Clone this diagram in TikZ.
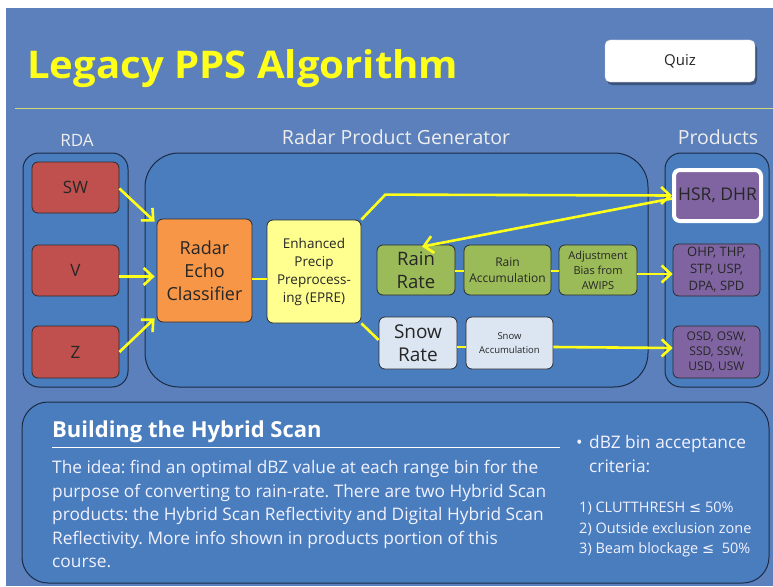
\documentclass[tikz,border=0pt]{standalone}
\usepackage{fontspec}
\setmainfont{Open Sans}
\newfontfamily\dejavu{DejaVu Sans}
\usetikzlibrary{arrows.meta,calc}
\definecolor{bgblue}{HTML}{5B80BC}
\definecolor{contfill}{HTML}{4A7DBE}
\definecolor{contline}{HTML}{1C2B45}
\definecolor{boxline}{HTML}{2B2B2B}
\definecolor{txtdark}{HTML}{262626}
\definecolor{hdr}{HTML}{EEEEEE}
\definecolor{ttl}{HTML}{FFFF1A}
\definecolor{ylw}{HTML}{FFFF1A}
\definecolor{hline}{HTML}{D4D77A}
\definecolor{cred}{HTML}{C0504D}
\definecolor{corange}{HTML}{F79646}
\definecolor{cyel}{HTML}{FFFF8F}
\definecolor{cgreen}{HTML}{9BBB59}
\definecolor{csnow}{HTML}{DCE6F2}
\definecolor{cpurple}{HTML}{8064A2}
\newcommand\fs[2]{\fontsize{#1}{#2}\selectfont}
\frenchspacing
\begin{document}
\begin{tikzpicture}[x=1pt,y=-1pt,
  cont/.style={draw=contline,fill=contfill,line width=1pt,inner sep=0pt},
  pbox/.style={draw=boxline,line width=0.8pt,rounded corners=6pt,inner sep=0pt,align=center,text=txtdark},
  redbox/.style={pbox,fill=cred},
  orangebox/.style={pbox,fill=corange},
  yelbox/.style={pbox,fill=cyel},
  greenbox/.style={pbox,fill=cgreen},
  snowbox/.style={pbox,fill=csnow},
  purplebox/.style={pbox,fill=cpurple},
  arr/.style={draw=ylw,line width=2.6pt,-{Straight Barb[length=9pt,width=17pt]}},
  link/.style={draw=ylw,line width=2.6pt},
  hdrtxt/.style={text=hdr,inner sep=0pt,anchor=base},
  bodytxt/.style={text=white!95!blue,inner sep=0pt,anchor=base west,font=\fs{17.3}{23}},
  crittxt/.style={text=white!95!blue,inner sep=0pt,anchor=base west,font=\fs{14.5}{20}}
]
\useasboundingbox (0,0) rectangle (773,586);
\fill[white] (0,0) rectangle (773,586);
\fill[bgblue] (6,8) rectangle (773,586);

% title
\node[anchor=base west,inner sep=0pt,text=ttl] (title) at (27,78)
  {\resizebox{431pt}{29pt}{\bfseries Legacy PPS Algorithm}};

% quiz button
\fill[black,opacity=0.35,rounded corners=5pt] (607,43) rectangle (757,85);
\node[draw=gray!40,fill=white,rounded corners=5pt,minimum width=150pt,minimum height=42pt,inner sep=0pt,text=txtdark,font=\fs{15}{18}] (quiz) at (680,61) {Quiz};

\draw[hline,line width=1pt] (15,108) -- (773,108);

% headers
\node[hdrtxt,font=\fs{17}{20}] (hrda) at (77,146) {RDA};
\node[hdrtxt,font=\fs{19.5}{24}] (hrpg) at (396,144) {Radar Product Generator};
\node[hdrtxt,font=\fs{19.5}{24}] (hprod) at (718,144) {Products};

% containers
\node[cont,rounded corners=16pt,minimum width=105pt,minimum height=234pt] (rda) at (75.5,270) {};
\node[cont,rounded corners=34pt,minimum width=503pt,minimum height=234pt] (rpg) at (396.5,270) {};
\node[cont,rounded corners=16pt,minimum width=104pt,minimum height=234pt] (prod) at (717,270) {};

% RDA boxes
\node[redbox,minimum width=87pt,minimum height=51pt,font=\fs{17}{21}] (sw) at (75.5,187.5) {SW};
\node[redbox,minimum width=87pt,minimum height=51pt,font=\fs{17}{21}] (v) at (75.5,270.5) {V};
\node[redbox,minimum width=87pt,minimum height=52pt,font=\fs{17}{21}] (z) at (75.5,352) {Z};

% RPG boxes
\node[orangebox,minimum width=95pt,minimum height=103pt,font=\fs{18}{23}] (rec) at (204.5,270.5) {Radar\\Echo\\Classifier};
\node[yelbox,minimum width=94pt,minimum height=103pt,font=\fs{13.5}{18}] (epre) at (314,271.5) {Enhanced\\Precip\\Preprocess-\\ing (EPRE)};
\node[greenbox,minimum width=78pt,minimum height=50pt,font=\fs{18.5}{23}] (rr) at (416,270) {Rain\\Rate};
\node[greenbox,minimum width=87pt,minimum height=50pt,font=\fs{12}{16}] (ra) at (507.5,270) {Rain\\Accumulation};
\node[greenbox,minimum width=78pt,minimum height=50pt,font=\fs{11}{15}] (adj) at (598,270) {Adjustment\\Bias from\\AWIPS};
\node[snowbox,minimum width=78pt,minimum height=52pt,font=\fs{19}{23}] (sr) at (418,343) {Snow\\Rate};
\node[snowbox,minimum width=87pt,minimum height=52pt,font=\fs{9.5}{13.5}] (sa) at (509.5,343) {Snow\\Accumulation};

% products
\node[purplebox,draw=white,line width=4pt,minimum width=87pt,minimum height=51pt,font=\fs{17.5}{21}] (hsr) at (717.5,195.5) {HSR, DHR};
\node[purplebox,minimum width=87pt,minimum height=52pt,font=\fs{13}{17}] (ohp) at (716.5,270) {OHP, THP,\\STP, USP,\\DPA, SPD};
\node[purplebox,minimum width=87pt,minimum height=52pt,font=\fs{12}{15}] (osd) at (716.5,352) {OSD, OSW,\\SSD, SSW,\\USD, USW};

% connectors
\draw[arr] ($(sw.east)+(0,1)$) -- ($(rec.north west)+(-2,3)$);
\draw[arr] ($(v.east)+(0,6)$) -- ($(rec.west)+(-2,6)$);
\draw[arr] (z.east) -- ($(rec.south west)+(-2,-4)$);
\draw[link] ($(rec.east)+(0,8.5)$) -- ($(epre.west)+(0,7.5)$);
\draw[arr] (epre.north east) -- ++(24,-25) -- (hsr.west);
\draw[arr] ($(hsr.west)+(0,3)$) -- ($(rr.north)+(6,2)$);
\draw[link] ($(rr.east)+(0,1)$) -- ($(ra.west)+(0,1)$);
\draw[link] ($(ra.east)+(0,1)$) -- ($(adj.west)+(0,1)$);
\draw[arr] ($(adj.east)+(0,4)$) -- ($(ohp.west)+(0,4)$);
\draw[link] (epre.south east) -- ($(sr.west)+(0,-3)$);
\draw[link] ($(sr.east)+(0,4)$) -- ($(sa.west)+(0,4)$);
\draw[arr] ($(sa.east)+(0,4)$) -- ($(osd.west)+(0,-4)$);

% bottom panel
\node[cont,rounded corners=26pt,minimum width=747pt,minimum height=181pt] (panel) at (395.5,492.5) {};
\node[text=white,inner sep=0pt,anchor=base west,font=\fs{22}{26}\bfseries] (bt) at (52,437) {Building the Hybrid Scan};
\draw[white,line width=0.8pt] ($(bt.base west)+(0,10)$) -- ++(508,0);
\node[bodytxt] (b1) at (52,473) {The idea: find an optimal dBZ value at each range bin for the};
\node[bodytxt] (b2) at (52,497) {purpose of converting to rain-rate. There are two Hybrid Scan};
\node[bodytxt] (b3) at (52,520) {products: the Hybrid Scan Reflectivity and Digital Hybrid Scan};
\node[bodytxt] (b4) at (52,544) {Reflectivity. More info shown in products portion of this};
\node[bodytxt] (b5) at (52,567) {course.};

\node[bodytxt] (bul) at (576,448) {\textbullet};
\node[bodytxt] (c1) at (589,448) {dBZ bin acceptance};
\node[bodytxt] (c2) at (589,472) {criteria:};
\node[crittxt] (c3) at (579,512) {1) CLUTTHRESH {\dejavu ≤} 50\%};
\node[crittxt] (c4) at (579,533) {2) Outside exclusion zone};
\node[crittxt] (c5) at (579,553) {3) Beam blockage {\dejavu ≤}\ \ 50\%};
\end{tikzpicture}
\end{document}
